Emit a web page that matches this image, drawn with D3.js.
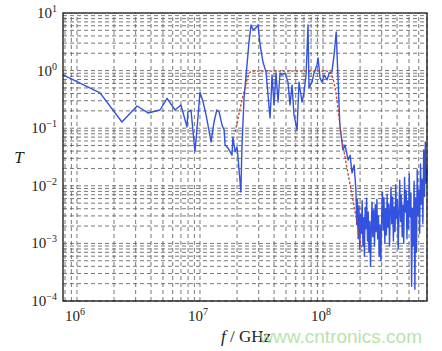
<!DOCTYPE html>
<html>
<head>
<meta charset="utf-8">
<script src="https://cdn.jsdelivr.net/npm/d3@7"></script>
<style>
  body { margin: 0; background: #fff; }
  #chart { width: 442px; height: 351px; }
  text { font-family: "Liberation Serif", "Times New Roman", serif; fill: #222; }
</style>
</head>
<body>
<div id="chart"></div>
<script>

// simulated transmission (blue), frequency in Hz
const simF = [
    7.7e5, 1.54e6, 2.32e6, 3.08e6, 3.78e6, 4.73e6, 5.4e6, 6.27e6, 7.0e6, 7.84e6,
    7.98e6, 8.45e6, 9.1e6, 9.46e6, 1.0e7, 1.06e7, 1.12e7, 1.16e7, 1.23e7, 1.30e7,
    1.37e7, 1.43e7, 1.51e7, 1.57e7, 1.60e7, 1.69e7, 1.82e7, 1.85e7, 1.93e7, 2.0e7,
    2.04e7, 2.15e7, 2.19e7, 2.28e7, 2.41e7, 2.5e7, 2.6e7, 2.70e7, 2.85e7, 2.96e7,
    3.08e7, 3.25e7, 3.44e7, 3.57e7, 3.71e7, 3.78e7, 3.85e7, 4.0e7, 4.15e7, 4.31e7,
    4.47e7, 4.64e7, 4.91e7, 5.19e7, 5.39e7, 5.6e7, 5.81e7, 6.15e7, 6.38e7, 6.75e7,
    7.01e7, 7.28e7, 7.55e7, 7.69e7, 8.14e7, 8.45e7, 8.94e7, 9.11e7, 9.46e7, 9.82e7,
    1.02e8, 1.08e8, 1.12e8, 1.18e8, 1.23e8, 1.28e8, 1.32e8, 1.37e8, 1.45e8, 1.51e8,
    1.6e8, 1.66e8, 1.72e8, 1.79e8
];
const simT = [
    0.84, 0.41, 0.128, 0.243, 0.184, 0.207, 0.33, 0.207, 0.253, 0.105,
    0.191, 0.207, 0.039, 0.1, 0.42, 0.285, 0.17, 0.114, 0.058, 0.128,
    0.207, 0.191, 0.114, 0.093, 0.051, 0.045, 0.034, 0.070, 0.039, 0.047,
    0.030, 0.0078, 0.045, 0.33, 1.25, 3.1, 6.2, 5.1, 5.5, 6.2,
    2.8, 1.41, 0.95, 0.38, 0.15, 0.33, 0.84, 0.253, 0.91, 0.285,
    0.91, 0.84, 0.91, 0.63, 0.253, 0.56, 0.17, 0.093, 0.63, 0.285,
    0.42, 0.84, 6.2, 0.5, 0.63, 0.91, 1.25, 1.66, 0.74, 0.63,
    0.84, 0.69, 0.91, 0.95, 1.87, 4.7, 0.84, 0.114, 0.042, 0.051,
    0.028, 0.034, 0.0167, 0.023
];

// noisy stop band, frequency in units of 1e8 Hz
const noiseF = [
    1.85, 1.88, 1.9, 1.93, 1.96, 1.99, 2.02, 2.05, 2.08, 2.11,
    2.14, 2.17, 2.2, 2.23, 2.26, 2.3, 2.33, 2.36, 2.4, 2.43,
    2.47, 2.5, 2.54, 2.58, 2.62, 2.66, 2.7, 2.74, 2.78, 2.82,
    2.86, 2.9, 2.95, 3.0, 3.04, 3.08, 3.13, 3.18, 3.22, 3.27,
    3.32, 3.37, 3.42, 3.47, 3.52, 3.57, 3.62, 3.68, 3.73, 3.79,
    3.85, 3.9, 3.96, 4.02, 4.08, 4.14, 4.2, 4.27, 4.33, 4.4,
    4.46, 4.53, 4.6, 4.67, 4.74, 4.81, 4.88, 4.95, 5.02, 5.1,
    5.18, 5.25, 5.33, 5.41, 5.5, 5.58, 5.66, 5.75, 5.83, 5.92,
    6.01, 6.1, 6.2, 6.29, 6.38, 6.48, 6.58, 6.68, 6.78, 6.9, 7.0
];
const noiseT = [
    0.0085, 0.0021, 0.0058, 0.0012, 0.0045, 0.0008, 0.0032, 0.0015, 0.0055, 0.0009,
    0.0028, 0.0006, 0.0042, 0.0018, 0.0061, 0.0011, 0.0035, 0.0007, 0.0024, 0.0004,
    0.0019, 0.0052, 0.0013, 0.0038, 0.0009, 0.0047, 0.0016, 0.0058, 0.0012, 0.0030,
    0.0006, 0.0021, 0.0005, 0.0033, 0.0078, 0.0017, 0.0062, 0.0010, 0.0040, 0.0014,
    0.0071, 0.0019, 0.0048, 0.0009, 0.0036, 0.0095, 0.0022, 0.0064, 0.0011, 0.0043,
    0.0016, 0.0105, 0.0027, 0.0058, 0.0008, 0.0031, 0.0125, 0.0024, 0.0069, 0.0013,
    0.0046, 0.0010, 0.0140, 0.0035, 0.0082, 0.0012, 0.0055, 0.0018, 0.0160, 0.0029,
    0.0075, 0.00018, 0.0041, 0.0009, 0.0120, 0.00016, 0.0062, 0.0007, 0.0190, 0.0030,
    0.0085, 0.0015, 0.0240, 0.0048, 0.0130, 0.0022, 0.0420, 0.0065, 0.0580, 0.0110, 0.0200
];

// ideal band-pass (red dashed)
const idealF = [1.93e7, 2.11e7, 2.32e7, 2.5e7, 2.65e7, 1.1e8, 1.2e8, 1.3e8, 1.37e8, 1.51e8, 1.66e8, 1.82e8, 2.08e8];
const idealT = [0.086, 0.21, 0.5, 0.87, 0.98, 0.98, 0.74, 0.3, 0.114, 0.031, 0.0105, 0.0036, 0.00072];

const xDecades = [6, 7, 8];
const yDecades = [1, 0, -1, -2, -3, -4];


const width = 442;
const height = 351;
const margin = { left: 63, top: 13, right: 15, bottom: 50 };

const svg = d3.select("#chart")
    .append("svg")
    .attr("width", width)
    .attr("height", height);

const x = d3.scaleLog()
    .domain([7.7e5, 7.0e8])
    .range([margin.left, width - margin.right]);

const y = d3.scaleLog()
    .domain([1e-4, 10])
    .range([height - margin.bottom, margin.top]);

// grid lines at 1..9 x 10^n
var xGrid = [];
for (let e = 5; e <= 8; e++) {
    for (let m = 1; m <= 9; m++) {
        let v = m * Math.pow(10, e);
        if (v >= x.domain()[0] && v <= x.domain()[1]) xGrid.push(v);
    }
}
var yGrid = [];
for (let e = -4; e <= 0; e++) {
    for (let m = 1; m <= 9; m++) {
        yGrid.push(m * Math.pow(10, e));
    }
}

svg.append("g")
    .selectAll("line")
    .data(xGrid)
    .enter()
    .append("line")
    .attr("x1", d => x(d))
    .attr("x2", d => x(d))
    .attr("y1", y.range()[0])
    .attr("y2", y.range()[1])
    .attr("stroke", "#555")
    .attr("stroke-width", 0.8)
    .attr("stroke-dasharray", "4,3");

svg.append("g")
    .selectAll("line")
    .data(yGrid)
    .enter()
    .append("line")
    .attr("x1", x.range()[0])
    .attr("x2", x.range()[1])
    .attr("y1", d => y(d))
    .attr("y2", d => y(d))
    .attr("stroke", "#555")
    .attr("stroke-width", 0.8)
    .attr("stroke-dasharray", "4,3");


// blue line: main part + noisy part
var blue = simF.map((f, i) => [f, simT[i]])
    .concat(noiseF.map((f, i) => [f * 1e8, noiseT[i]]));

const line = d3.line()
    .x(d => x(d[0]))
    .y(d => y(d[1]));

svg.append("path")
    .datum(blue)
    .attr("d", line)
    .attr("fill", "none")
    .attr("stroke", "#3352e0")
    .attr("stroke-width", 1.4)
    .attr("stroke-linejoin", "round");

svg.append("path")
    .datum(idealF.map((f, i) => [f, idealT[i]]))
    .attr("d", line.curve(d3.curveMonotoneX))
    .attr("fill", "none")
    .attr("stroke", "#c8402a")
    .attr("stroke-width", 1.3)
    .attr("stroke-dasharray", "2.5,1.8");

// frame
svg.append("rect")
    .attr("x", x.range()[0])
    .attr("y", y.range()[1])
    .attr("width", x.range()[1] - x.range()[0])
    .attr("height", y.range()[0] - y.range()[1])
    .attr("fill", "none")
    .attr("stroke", "#111")
    .attr("stroke-width", 1.3);

// tick labels
var xLab = svg.selectAll("text.xlab")
    .data(xDecades)
    .enter()
    .append("text")
    .attr("class", "xlab")
    .attr("x", d => x(Math.pow(10, d)) - 2)
    .attr("y", 321)
    .attr("text-anchor", "middle")
    .style("font-size", "15px");
xLab.append("tspan").text("10");
xLab.append("tspan").attr("dy", -6).style("font-size", "10px").text(d => d);

var yLab = svg.selectAll("text.ylab")
    .data(yDecades)
    .enter()
    .append("text")
    .attr("class", "ylab")
    .attr("x", 57)
    .attr("y", d => y(Math.pow(10, d)) + 5)
    .attr("text-anchor", "end")
    .style("font-size", "15px");
yLab.append("tspan").text("10");
yLab.append("tspan").attr("dy", -6).style("font-size", "10px").text(d => d < 0 ? "\u2212" + (-d) : d);

// axis titles
var xTitle = svg.append("text")
    .attr("x", 246)
    .attr("y", 342)
    .attr("text-anchor", "middle")
    .style("font-size", "17px");
xTitle.append("tspan").style("font-style", "italic").text("f");
xTitle.append("tspan").text(" / GHz");

svg.append("text")
    .attr("x", 19)
    .attr("y", 163)
    .attr("text-anchor", "middle")
    .style("font-size", "17px")
    .style("font-style", "italic")
    .text("T");

// watermark
svg.append("text")
    .attr("x", 422)
    .attr("y", 343)
    .attr("text-anchor", "end")
    .style("font-family", "Liberation Sans, Arial, sans-serif")
    .style("font-size", "19px")
    .style("fill", "#9fdc8f")
    .style("opacity", 0.75)
    .text("www.cntronics.com");

</script>
</body>
</html>
